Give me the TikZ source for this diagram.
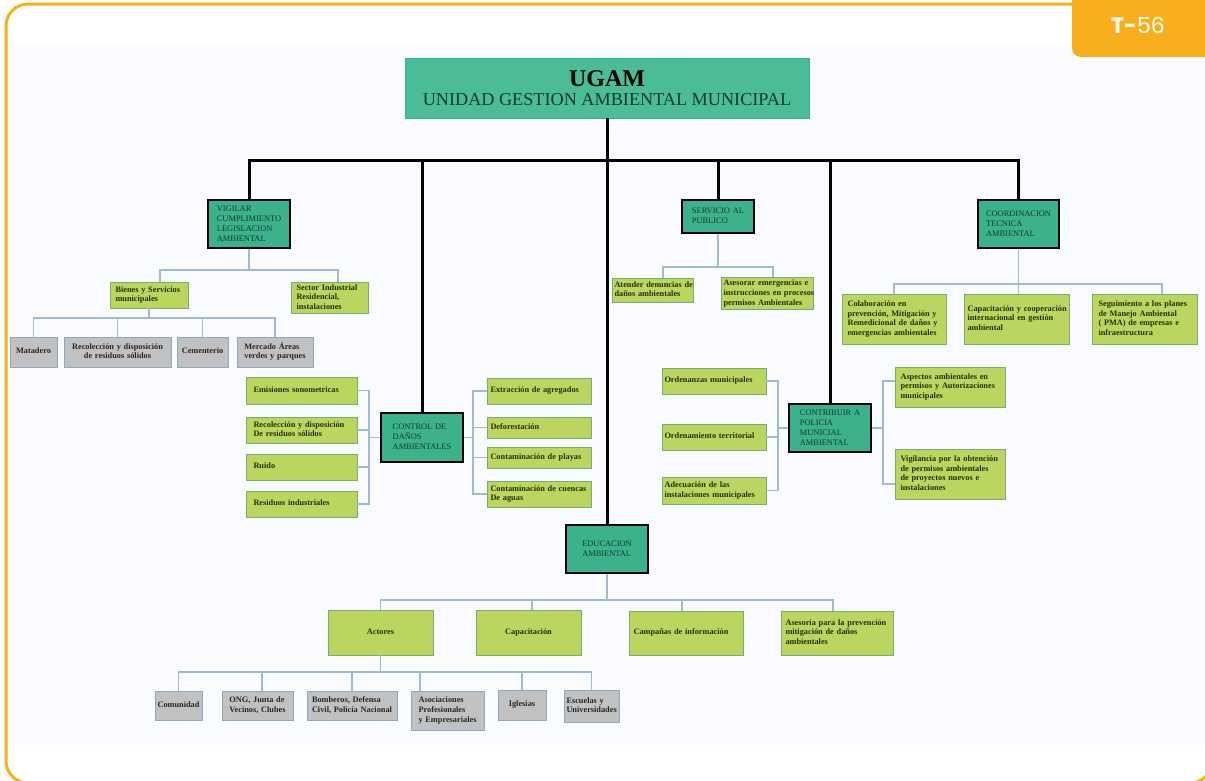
\documentclass[tikz,border=0pt]{standalone}
\usepackage{fontspec}
\setmainfont{Liberation Serif}
\newfontfamily\badgefont{Poppins}
\definecolor{frameor}{HTML}{F8AF1E}
\definecolor{bgtint}{HTML}{FAFBFE}
\definecolor{ugamfill}{HTML}{4ABC97}
\definecolor{tealfill}{HTML}{3BB18C}
\definecolor{tealtext}{HTML}{163A30}
\definecolor{greenfill}{HTML}{BAD65E}
\definecolor{greenedge}{HTML}{74AE74}
\definecolor{greentext}{HTML}{25300E}
\definecolor{grayfill}{HTML}{C1C1C3}
\definecolor{grayedge}{HTML}{8EA9BD}
\definecolor{connblue}{HTML}{9CBCD2}
\newcommand\bx[8]{%
  \pgfmathsetmacro\bxw{#4-#2}%
  \pgfmathsetmacro\bxh{#5-#3}%
  \pgfmathsetmacro\bxt{#4-#2-5}%
  \node[#6, minimum width=\bxw pt, minimum height=\bxh pt, text width=\bxt pt, inner xsep=2.5pt, inner ysep=1pt] (#1) at ({(#2+#4)/2},{(#3+#5)/2}) {\noindent\begin{tabular}{#7}#8\end{tabular}};}
\tikzset{
  tealbx/.style={draw=black, line width=2pt, fill=tealfill, text=tealtext, align=center, font=\fontsize{8.4}{10}\selectfont},
  greenbx/.style={draw=greenedge, line width=0.9pt, fill=greenfill, text=greentext, align=left, font=\bfseries\fontsize{8.3}{9.8}\selectfont},
  greenbxc/.style={greenbx, align=center},
  graybx/.style={draw=grayedge, line width=0.9pt, fill=grayfill, text=black!85, align=center, font=\bfseries\fontsize{8.3}{9.8}\selectfont},
  ugambx/.style={draw=tealfill, line width=0.8pt, fill=ugamfill, align=center},
  conn/.style={draw=connblue, line width=1.3pt},
  mainline/.style={draw=black, line width=3pt},
}
\begin{document}
\begin{tikzpicture}[x=1pt,y=-1pt]
\useasboundingbox (0,0) rectangle (1205,780);
% background and frame
\fill[bgtint] (7,45) rectangle (1205,745);
\draw[frameor, line width=3pt, rounded corners=22pt] (6,4) rectangle (1212,783);
\fill[frameor, rounded corners=9pt] (1072,-12) rectangle (1220,57);
\node[text=white, font=\badgefont\fontsize{22}{22}\selectfont, inner sep=0pt] (badge) at (1138,25) {\textbf{T-}56};
% top box
\node[ugambx, minimum width=404pt, minimum height=60pt, inner ysep=2pt] (ugam) at (607,88)
  {{\bfseries\fontsize{24}{24}\selectfont UGAM}\\[6pt]{\color{tealtext}\fontsize{18.2}{20}\selectfont UNIDAD GESTION AMBIENTAL MUNICIPAL}};
% main teal boxes
\bx{vig}{208}{200}{290}{248}{tealbx}{@{}l@{}}{VIGILAR\\CUMPLIMIENTO\\LEGISLACION\\AMBIENTAL}
\bx{serv}{682}{200}{754}{233}{tealbx}{@{}l@{}}{SERVICIO AL\\PUBLICO}
\bx{coord}{978}{200}{1059}{248}{tealbx}{@{}l@{}}{COORDINACION\\TECNICA\\AMBIENTAL}
\bx{ctrl}{381}{413}{463}{462}{tealbx}{@{}l@{}}{CONTROL DE\\DAÑOS\\AMBIENTALES}
\bx{contrib}{789}{404}{871}{452}{tealbx}{@{}l@{}}{CONTRIBUIR A\\POLICIA\\MUNICIAL\\AMBIENTAL}
\bx{educ}{566}{525}{648}{573}{tealbx}{@{}l@{}}{EDUCACION\\AMBIENTAL}
% green boxes
\bx{bienes}{110}{282}{188}{308}{greenbx}{@{\hskip3pt}l@{}}{Bienes y Servicios\\municipales}
\bx{sector}{291}{283}{368}{313}{greenbx}{@{\hskip3pt}l@{}}{Sector Industrial\\Residencial,\\instalaciones}
\bx{atender}{612}{278}{693}{302}{greenbx}{@{}l@{}}{Atender denuncias de\\daños ambientales}
\bx{asesorar}{721}{278}{813}{309}{greenbxc}{@{}l@{}}{Asesorar emergencias e\\instrucciones en procesos\\permisos Ambientales}
\bx{colab}{842}{294}{946}{344}{greenbx}{@{\hskip3pt}l@{}}{Colaboración en\\prevención, Mitigación y\\Remedicional de daños y\\emergencias ambientales}
\bx{capac}{964}{294}{1069}{344}{greenbx}{@{\hskip1pt}l@{}}{Capacitación y cooperación\\internacional en gestión\\ambiental}
\bx{segui}{1092}{294}{1197}{344}{greenbx}{@{\hskip4pt}l@{}}{Seguimiento a los planes\\de Manejo Ambiental\\( PMA) de empresas e\\infraestructura}
\bx{emis}{246}{377}{357}{404}{greenbx}{@{\hskip5pt}l@{}}{Emisiones sonometricas}
\bx{recol2}{246}{417}{357}{443}{greenbx}{@{\hskip5pt}l@{}}{Recolección y disposición\\De residuos sólidos}
\bx{ruido}{246}{454}{357}{480}{greenbx}{@{\hskip5pt}l@{}}{Ruido}
\bx{resid}{246}{491}{357}{517}{greenbx}{@{\hskip5pt}l@{}}{Residuos industriales}
\bx{extr}{487}{378}{591}{404}{greenbx}{@{\hskip1pt}l@{}}{Extracción de agregados}
\bx{defor}{487}{417}{591}{438}{greenbx}{@{\hskip1pt}l@{}}{Deforestación}
\bx{playas}{487}{447}{591}{468}{greenbx}{@{\hskip1pt}l@{}}{Contaminación de playas}
\bx{cuencas}{487}{481}{591}{507}{greenbx}{@{\hskip1pt}l@{}}{Contaminación de cuencas\\De aguas}
\bx{orden}{662}{368}{766}{394}{greenbx}{@{}l@{}}{Ordenanzas municipales}
\bx{ordterr}{662}{424}{766}{450}{greenbx}{@{}l@{}}{Ordenamiento territorial}
\bx{adec}{662}{477}{766}{504}{greenbx}{@{}l@{}}{Adecuación de las\\instalaciones municipales}
\bx{aspect}{895}{367}{1005}{407}{greenbx}{@{\hskip3pt}l@{}}{Aspectos ambientales en\\permisos y Autorizaciones\\municipales}
\bx{vigil}{895}{449}{1005}{499}{greenbx}{@{\hskip3pt}l@{}}{Vigilancia por la obtención\\de permisos ambientales\\de proyectos nuevos e\\instalaciones}
\bx{actores}{328}{610}{433}{655}{greenbxc}{@{}c@{}}{Actores}
\bx{capacit}{476}{610}{581}{655}{greenbxc}{@{}c@{}}{Capacitación}
\bx{campanas}{629}{611}{743}{655}{greenbx}{@{\hskip2pt}l@{}}{Campañas de información}
\bx{asesoria}{781}{611}{893}{655}{greenbx}{@{\hskip2pt}l@{}}{Asesoría para la prevención\\mitigación de daños\\ambientales}
% gray boxes
\bx{matadero}{10}{337}{57}{367}{graybx}{@{}c@{}}{Matadero}
\bx{recol1}{64}{337}{171}{367}{graybx}{@{}c@{}}{Recolección y disposición\\de residuos sólidos}
\bx{cement}{177}{337}{228}{367}{graybx}{@{}c@{}}{Cementerio}
\bx{mercado}{237}{337}{313}{367}{graybx}{@{}l@{}}{Mercado Áreas\\verdes y parques}
\bx{comun}{155}{691}{202}{720}{graybx}{@{}c@{}}{Comunidad}
\bx{ong}{222}{691}{293}{720}{graybx}{@{}l@{}}{ONG, Junta de\\Vecinos, Clubes}
\bx{bomb}{307}{691}{397}{720}{graybx}{@{}l@{}}{Bomberos, Defensa\\Civil, Policía Nacional}
\bx{asoc}{411}{691}{484}{730}{graybx}{@{}l@{}}{Asociaciones\\Profesionales\\y Empresariales}
\bx{igles}{498}{690}{546}{720}{graybx}{@{}c@{}}{Iglesias}
\bx{escu}{564}{690}{619}{722}{graybx}{@{}l@{}}{Escuelas y\\Universidades}
% main black connectors
\coordinate (my) at (0,160);
\draw[mainline] (ugam.south) -- (ugam.south |- my);
\draw[mainline] (vig.north) -- (vig.north |- my) -- (coord.north |- my) -- (coord.north);
\draw[mainline] (ctrl.north |- my) -- (ctrl.north);
\draw[mainline] (educ.north |- my) -- (educ.north);
\draw[mainline] (serv.north |- my) -- (serv.north);
\draw[mainline] (contrib.north |- my) -- (contrib.north);
% VIGILAR subtree
\coordinate (vy) at (0,270);
\coordinate (vl) at (160,270);
\coordinate (vr) at (338,270);
\draw[conn] (vig.south) -- (vig.south |- vy);
\draw[conn] (bienes.north -| vl) -- (vl) -- (vr) -- (sector.north -| vr);
\coordinate (by) at (0,318);
\draw[conn] (bienes.south) -- (bienes.south |- by);
\draw[conn] (matadero.north) -- (matadero.north |- by) -- (mercado.north |- by) -- (mercado.north);
\draw[conn] (recol1.north) -- (recol1.north |- by);
\draw[conn] (cement.north) -- (cement.north |- by);
% SERVICIO subtree
\coordinate (sl) at (663,267);
\coordinate (sr) at (773,267);
\draw[conn] (serv.south) -- (serv.south |- sl);
\draw[conn] (atender.north -| sl) -- (sl) -- (sr) -- (asesorar.north -| sr);
% COORDINACION subtree
\coordinate (cy) at (0,284);
\coordinate (cR) at (1162,284);
\draw[conn] (coord.south) -- (coord.south |- capac.north);
\draw[conn] (colab.north) -- (colab.north |- cy) -- (cR) -- (segui.north -| cR);
% CONTROL subtree
\coordinate (kl) at (369,0);
\coordinate (kr) at (473,0);
\draw[conn] (emis.east) -- (emis.east -| kl) -- (resid.east -| kl) -- (resid.east);
\draw[conn] (recol2.east) -- (recol2.east -| kl);
\draw[conn] (ruido.east) -- (ruido.east -| kl);
\draw[conn] (ctrl.west) -- (ctrl.west -| kl);
\draw[conn] (extr.west) -- (extr.west -| kr) -- (cuencas.west -| kr) -- (cuencas.west);
\draw[conn] (defor.west) -- (defor.west -| kr);
\draw[conn] (playas.west) -- (playas.west -| kr);
\draw[conn] (ctrl.east) -- (ctrl.east -| kr);
% CONTRIBUIR subtree
\coordinate (tl) at (778,0);
\draw[conn] (orden.east) -- (orden.east -| tl) -- (adec.east -| tl) -- (adec.east);
\draw[conn] (ordterr.east) -- (ordterr.east -| tl);
\draw[conn] (contrib.west) -- (contrib.west -| tl);
\coordinate (t1) at (883,381);
\coordinate (t2) at (883,484);
\draw[conn] (t1 -| aspect.west) -- (t1) -- (t2) -- (t2 -| vigil.west);
\draw[conn] (contrib.east) -- (contrib.east -| t1);
% EDUCACION subtree
\coordinate (ey) at (0,600);
\coordinate (e2) at (532,600);
\coordinate (e3) at (682,600);
\coordinate (e4) at (833,600);
\draw[conn] (educ.south) -- (educ.south |- ey);
\draw[conn] (actores.north) -- (actores.north |- ey) -- (e4) -- (e4 |- asesoria.north);
\draw[conn] (e2) -- (e2 |- capacit.north);
\draw[conn] (e3) -- (e3 |- campanas.north);
\coordinate (ay) at (0,672);
\coordinate (a2) at (262,672);
\coordinate (a4) at (420,672);
\draw[conn] (actores.south) -- (actores.south |- ay);
\draw[conn] (comun.north) -- (comun.north |- ay) -- (escu.north |- ay) -- (escu.north);
\draw[conn] (a2) -- (a2 |- ong.north);
\draw[conn] (bomb.north) -- (bomb.north |- ay);
\draw[conn] (a4) -- (a4 |- asoc.north);
\draw[conn] (igles.north) -- (igles.north |- ay);
\end{tikzpicture}
\end{document}
